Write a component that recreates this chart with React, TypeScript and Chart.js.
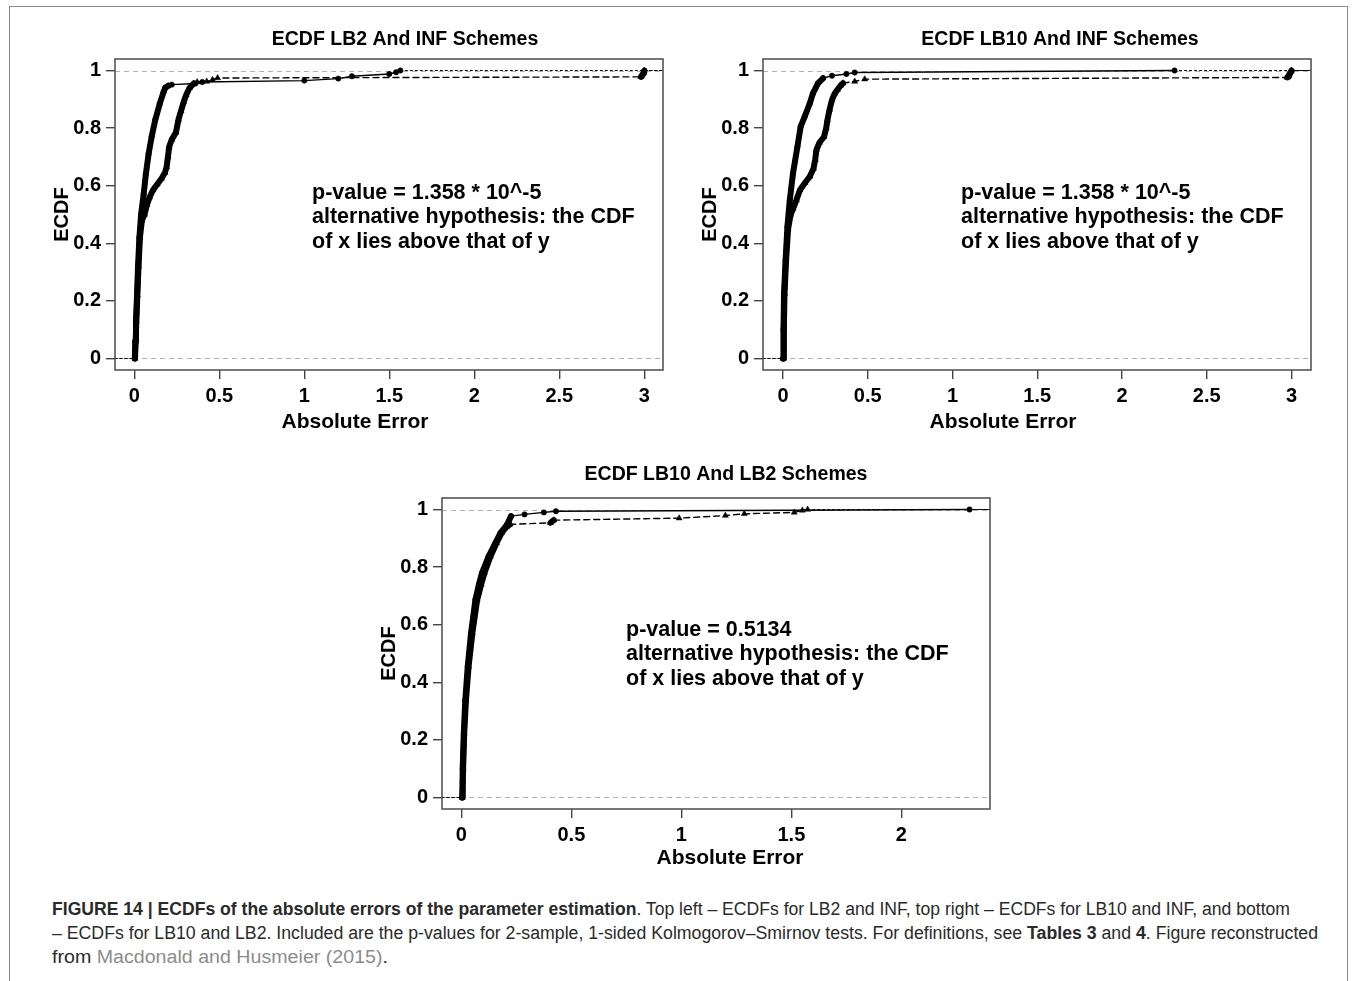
import React, { useEffect, useRef } from "react";
import { Chart, registerables } from "chart.js";

Chart.register(...registerables);

// ------------------------------------------------------------------
// Data
// ------------------------------------------------------------------
const yTickValues = [0, 0.2, 0.4, 0.6, 0.8, 1];
const yTickLabels = ["0", "0.2", "0.4", "0.6", "0.8", "1"];
const xTickValuesTop = [0, 0.5, 1, 1.5, 2, 2.5, 3];
const xTickLabelsTop = ["0", "0.5", "1", "1.5", "2", "2.5", "3"];
const xTickValuesBottom = [0, 0.5, 1, 1.5, 2];
const xTickLabelsBottom = ["0", "0.5", "1", "1.5", "2"];
const referenceLevels = [0, 1];

const panelTitles = [
  "ECDF LB2 And INF Schemes",
  "ECDF LB10 And INF Schemes",
  "ECDF LB10 And LB2 Schemes",
];
const xAxisTitle = "Absolute Error";
const yAxisTitle = "ECDF";

const annotationTop = [
  "p-value = 1.358 * 10^-5",
  "alternative hypothesis: the CDF",
  "of x lies above that of y",
];
const annotationBottom = [
  "p-value = 0.5134",
  "alternative hypothesis: the CDF",
  "of x lies above that of y",
];

// Panel 1: x = LB2 (circles, solid), y = INF (triangles, dashed)
const p1LB2Err = [0.003, 0.006, 0.01, 0.016, 0.022, 0.03, 0.04, 0.055, 0.068, 0.084, 0.102, 0.124, 0.15, 0.172, 0.182, 0.2, 0.22, 0.36, 0.4, 1.0, 1.2, 1.28, 1.5, 1.54, 1.565];
const p1LB2Ecdf = [0.0, 0.06, 0.13, 0.22, 0.32, 0.42, 0.5, 0.57, 0.64, 0.71, 0.77, 0.83, 0.885, 0.925, 0.94, 0.947, 0.951, 0.955, 0.96, 0.965, 0.972, 0.98, 0.988, 0.994, 1.0];
const p1INFErr = [0.004, 0.008, 0.012, 0.018, 0.025, 0.033, 0.045, 0.06, 0.075, 0.09, 0.11, 0.135, 0.16, 0.18, 0.19, 0.198, 0.205, 0.22, 0.245, 0.26, 0.275, 0.29, 0.305, 0.325, 0.35, 0.37, 0.426, 0.46, 0.49, 2.98, 2.985, 2.99, 2.995, 2.997, 3.0];
const p1INFEcdf = [0.0, 0.06, 0.13, 0.22, 0.32, 0.42, 0.48, 0.5, 0.535, 0.56, 0.585, 0.605, 0.625, 0.645, 0.665, 0.7, 0.735, 0.76, 0.785, 0.83, 0.86, 0.89, 0.915, 0.94, 0.955, 0.96, 0.962, 0.968, 0.974, 0.978, 0.982, 0.987, 0.991, 0.995, 1.0];

// Panel 2: x = LB10 (circles, solid), y = INF (triangles, dashed)
const p2LB10Err = [0.0, 0.003, 0.006, 0.015, 0.026, 0.04, 0.059, 0.085, 0.104, 0.128, 0.158, 0.177, 0.207, 0.236, 0.289, 0.374, 0.423, 2.31];
const p2LB10Ecdf = [0.0, 0.1, 0.225, 0.34, 0.457, 0.55, 0.643, 0.735, 0.805, 0.84, 0.886, 0.921, 0.956, 0.973, 0.982, 0.988, 0.993, 1.0];
const p2INFErr = [0.002, 0.005, 0.009, 0.018, 0.03, 0.045, 0.059, 0.079, 0.1, 0.13, 0.158, 0.18, 0.19, 0.197, 0.215, 0.242, 0.255, 0.262, 0.275, 0.289, 0.305, 0.321, 0.34, 0.354, 0.423, 0.482, 2.975, 2.98, 2.985, 2.99, 2.995, 3.0];
const p2INFEcdf = [0.0, 0.1, 0.225, 0.34, 0.45, 0.5, 0.52, 0.55, 0.585, 0.61, 0.632, 0.66, 0.69, 0.724, 0.75, 0.77, 0.8, 0.828, 0.865, 0.898, 0.92, 0.933, 0.948, 0.956, 0.962, 0.97, 0.976, 0.98, 0.985, 0.99, 0.995, 1.0];

// Panel 3: x = LB10 (circles, solid), y = LB2 (triangles, dashed)
const p3LB10Err = [0.003, 0.006, 0.011, 0.018, 0.029, 0.044, 0.064, 0.08, 0.094, 0.124, 0.155, 0.178, 0.208, 0.226, 0.287, 0.375, 0.43, 2.31];
const p3LB10Ecdf = [0.0, 0.1, 0.223, 0.339, 0.455, 0.571, 0.687, 0.74, 0.78, 0.837, 0.884, 0.919, 0.948, 0.977, 0.983, 0.99, 0.994, 1.0];
const p3LB2Err = [0.004, 0.008, 0.013, 0.021, 0.033, 0.05, 0.072, 0.09, 0.105, 0.132, 0.16, 0.183, 0.205, 0.22, 0.405, 0.42, 0.99, 1.2, 1.286, 1.513, 1.55, 1.574];
const p3LB2Ecdf = [0.0, 0.1, 0.223, 0.339, 0.455, 0.571, 0.687, 0.74, 0.78, 0.837, 0.884, 0.919, 0.94, 0.948, 0.954, 0.963, 0.97, 0.979, 0.985, 0.99, 0.997, 1.0];

// ------------------------------------------------------------------
// Layout / styling
// ------------------------------------------------------------------
const FONT = "'Liberation Sans', Arial, Helvetica, sans-serif";
const CANVAS_W = 660;
const CANVAS_H = 430;
const AREA_TOP = 49;
const AREA_H = 311;
const Y_AXIS_W = 95;
const PAD_RIGHT = 17;

type SeriesDef = { err: number[]; ecdf: number[]; marker: "circle" | "triangle"; dashed: boolean };
type PanelDef = {
  left: number;
  top: number;
  title: string;
  titleX: number;
  titleY: number;
  xTitleX: number;
  xTitleY: number;
  xMin: number;
  xMax: number;
  xTicks: number[];
  xLabels: string[];
  annotation: string[];
  annX: number;
  annY: number;
  series: SeriesDef[];
};

const panels: PanelDef[] = [
  {
    left: 20, top: 10, title: panelTitles[0], titleX: 385, titleY: 30, xTitleX: 335, xTitleY: 412,
    xMin: -0.1135, xMax: 3.11, xTicks: xTickValuesTop, xLabels: xTickLabelsTop,
    annotation: annotationTop, annX: 197, annY: 134,
    series: [
      { err: p1LB2Err, ecdf: p1LB2Ecdf, marker: "circle", dashed: false },
      { err: p1INFErr, ecdf: p1INFEcdf, marker: "triangle", dashed: true },
    ],
  },
  {
    left: 668, top: 10, title: panelTitles[1], titleX: 392, titleY: 30, xTitleX: 335, xTitleY: 412,
    xMin: -0.118, xMax: 3.115, xTicks: xTickValuesTop, xLabels: xTickLabelsTop,
    annotation: annotationTop, annX: 198, annY: 134,
    series: [
      { err: p2LB10Err, ecdf: p2LB10Ecdf, marker: "circle", dashed: false },
      { err: p2INFErr, ecdf: p2INFEcdf, marker: "triangle", dashed: true },
    ],
  },
  {
    left: 347, top: 449, title: panelTitles[2], titleX: 379, titleY: 26, xTitleX: 383, xTitleY: 409,
    xMin: -0.088, xMax: 2.403, xTicks: xTickValuesBottom, xLabels: xTickLabelsBottom,
    annotation: annotationBottom, annX: 184, annY: 132,
    series: [
      { err: p3LB10Err, ecdf: p3LB10Ecdf, marker: "circle", dashed: false },
      { err: p3LB2Err, ecdf: p3LB2Ecdf, marker: "triangle", dashed: true },
    ],
  },
];

function isSteep(c: any) {
  return Math.abs(c.p1.y - c.p0.y) > 0.6 * Math.abs(c.p1.x - c.p0.x);
}

function buildDataset(s: SeriesDef, xMin: number, xMax: number) {
  const pts = [
    { x: xMin, y: s.ecdf[0] },
    ...s.err.map((e, i) => ({ x: e, y: s.ecdf[i] })),
    { x: xMax, y: s.ecdf[s.ecdf.length - 1] },
  ];
  const last = pts.length - 1;
  return {
    data: pts,
    stepped: false,
    tension: 0,
    borderColor: "#000",
    backgroundColor: "#000",
    borderWidth: 1.4,
    borderJoinStyle: "round",
    borderCapStyle: "round",
    pointStyle: s.marker,
    pointRadius: (c: any) => (c.dataIndex === 0 || c.dataIndex === last ? 0 : s.marker === "circle" ? 2.7 : 3.5),
    pointBackgroundColor: "#000",
    pointBorderColor: "#000",
    pointBorderWidth: 0.5,
    segment: {
      borderWidth: (c: any) => {
        if (c.p0DataIndex === 0 || c.p1DataIndex === last) return 1.1;
        return isSteep(c) ? 6 : 1.4;
      },
      borderDash: (c: any) => {
        if (c.p0DataIndex === 0 || c.p1DataIndex === last) return [2, 3];
        if (isSteep(c)) return [];
        return s.dashed ? [6, 4] : [];
      },
    },
  };
}

function Panel({ def }: { def: PanelDef }) {
  const ref = useRef<HTMLCanvasElement | null>(null);
  useEffect(() => {
    if (!ref.current) return;
    const decor = {
      id: "rDecor",
      beforeDatasetsDraw(chart: any) {
        const { ctx, chartArea } = chart;
        const ys = chart.scales.y;
        ctx.save();
        ctx.strokeStyle = "#b3b3b3";
        ctx.lineWidth = 1;
        ctx.setLineDash([5, 4]);
        referenceLevels.forEach((lv) => {
          const py = Math.round(ys.getPixelForValue(lv)) + 0.5;
          ctx.beginPath();
          ctx.moveTo(chartArea.left, py);
          ctx.lineTo(chartArea.right, py);
          ctx.stroke();
        });
        ctx.restore();
      },
      afterDraw(chart: any) {
        const { ctx, chartArea } = chart;
        ctx.save();
        ctx.strokeStyle = "#555";
        ctx.lineWidth = 1.6;
        ctx.setLineDash([]);
        ctx.strokeRect(chartArea.left, chartArea.top, chartArea.right - chartArea.left, chartArea.bottom - chartArea.top);
        ctx.fillStyle = "#000";
        ctx.textBaseline = "middle";
        ctx.textAlign = "center";
        ctx.font = `bold 19.5px ${FONT}`;
        ctx.fillText(def.title, def.titleX, def.titleY);
        ctx.font = `bold 21px ${FONT}`;
        ctx.fillText(xAxisTitle, def.xTitleX, def.xTitleY);
        ctx.textAlign = "left";
        ctx.font = `bold 21.5px ${FONT}`;
        def.annotation.forEach((line, i) => {
          ctx.fillText(line, chartArea.left + def.annX, chartArea.top + def.annY + i * 24.3);
        });
        ctx.restore();
      },
    };
    const chart = new Chart(ref.current, {
      type: "line",
      data: { datasets: def.series.map((s) => buildDataset(s, def.xMin, def.xMax)) as any },
      options: {
        responsive: false,
        animation: false,
        events: [],
        layout: { padding: { left: 0, right: PAD_RIGHT, top: AREA_TOP, bottom: 0 } },
        plugins: { legend: { display: false }, tooltip: { enabled: false }, title: { display: false } },
        scales: {
          x: {
            type: "linear",
            min: def.xMin,
            max: def.xMax,
            afterBuildTicks: (scale: any) => {
              scale.ticks = def.xTicks.map((v) => ({ value: v }));
            },
            afterFit: (scale: any) => {
              scale.height = CANVAS_H - AREA_TOP - AREA_H;
            },
            ticks: {
              autoSkip: false,
              maxRotation: 0,
              padding: 5,
              color: "#000",
              font: { family: FONT, weight: "bold", size: 20 },
              callback: (_v: any, i: number) => def.xLabels[i],
            },
            grid: { display: true, drawOnChartArea: false, drawTicks: true, tickLength: 9, color: "#444", lineWidth: 1.4 },
            border: { display: false },
          },
          y: {
            type: "linear",
            min: -0.04,
            max: 1.04,
            afterBuildTicks: (scale: any) => {
              scale.ticks = yTickValues.map((v) => ({ value: v }));
            },
            afterFit: (scale: any) => {
              scale.width = Y_AXIS_W;
            },
            ticks: {
              autoSkip: false,
              padding: 5,
              color: "#000",
              font: { family: FONT, weight: "bold", size: 20 },
              callback: (_v: any, i: number) => yTickLabels[i],
            },
            title: {
              display: true,
              text: yAxisTitle,
              color: "#000",
              font: { family: FONT, weight: "bold", size: 20 },
              padding: { top: 30, bottom: 0 },
            },
            grid: { display: true, drawOnChartArea: false, drawTicks: true, tickLength: 9, color: "#444", lineWidth: 1.4 },
            border: { display: false },
          },
        },
      } as any,
      plugins: [decor],
    });
    return () => chart.destroy();
  }, [def]);
  return (
    <canvas
      ref={ref}
      width={CANVAS_W}
      height={CANVAS_H}
      style={{ position: "absolute", left: def.left, top: def.top, width: CANVAS_W, height: CANVAS_H }}
    />
  );
}

const captionLineWidths = [1238, 1266, 336];

function Caption() {
  const ref = useRef<HTMLDivElement | null>(null);
  useEffect(() => {
    const el = ref.current;
    if (!el) return;
    Array.from(el.children).forEach((child, i) => {
      const c = child as HTMLElement;
      const w = c.getBoundingClientRect().width;
      if (w > 0) c.style.transform = `scaleX(${captionLineWidths[i] / w})`;
    });
  }, []);
  const lineStyle: React.CSSProperties = { display: "block", width: "max-content", transformOrigin: "left top" };
  return (
    <div
      ref={ref}
      style={{
        position: "absolute",
        left: 52,
        top: 897,
        fontFamily: FONT,
        fontSize: 18,
        lineHeight: "24px",
        color: "#2a2a2a",
        whiteSpace: "nowrap",
      }}
    >
      <div style={lineStyle}>
        <b>FIGURE 14 | ECDFs of the absolute errors of the parameter estimation</b>. Top left – ECDFs for LB2 and INF, top right – ECDFs for LB10 and INF, and bottom
      </div>
      <div style={lineStyle}>
        – ECDFs for LB10 and LB2. Included are the p-values for 2-sample, 1-sided Kolmogorov–Smirnov tests. For definitions, see <b>Tables 3</b> and <b>4</b>. Figure reconstructed
      </div>
      <div style={lineStyle}>
        from <span style={{ color: "#8c8c8c" }}>Macdonald and Husmeier (2015)</span>.
      </div>
    </div>
  );
}

export default function App() {
  return (
    <div
      style={{
        position: "absolute",
        left: 0,
        top: 0,
        width: 1355,
        height: 981,
        overflow: "hidden",
        background: "#fff",
      }}
    >
      <div
        style={{
          position: "absolute",
          left: 9,
          top: 6,
          width: 1339,
          height: 1000,
          border: "1.5px solid #8a8a8a",
          boxSizing: "border-box",
        }}
      />
      {panels.map((p, i) => (
        <Panel key={i} def={p} />
      ))}
      <Caption />
    </div>
  );
}
